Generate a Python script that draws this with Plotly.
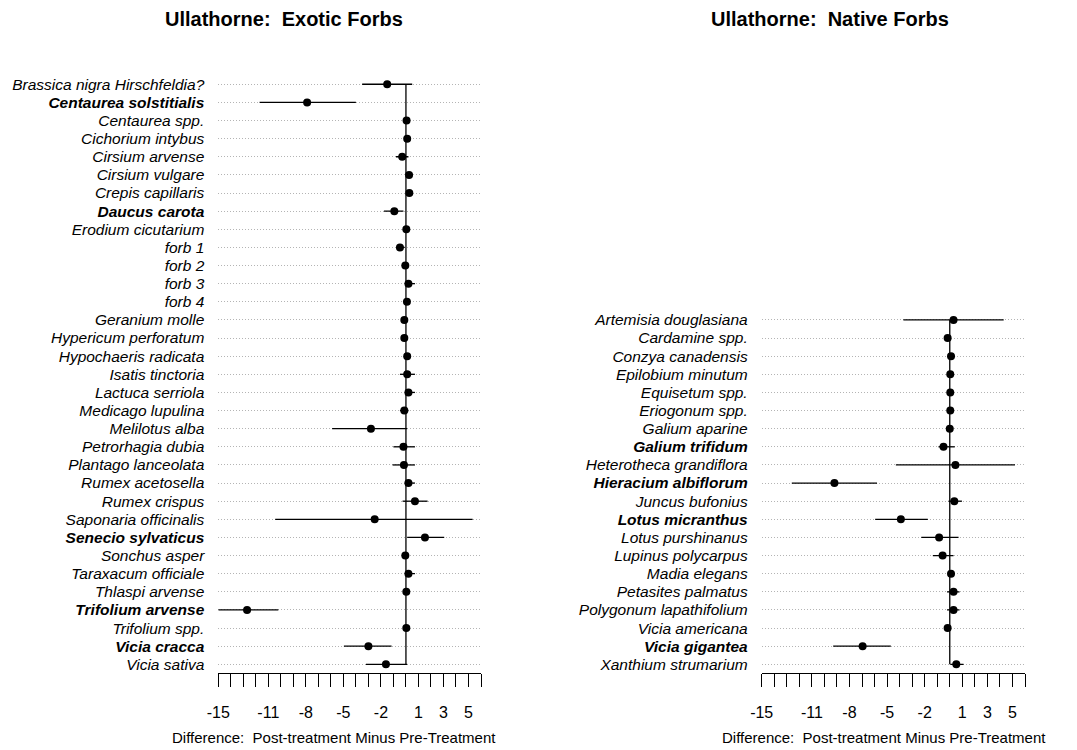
import plotly.graph_objects as go

# ---------------- data ----------------
exotic_species = [
    "Brassica nigra Hirschfeldia?", "Centaurea solstitialis", "Centaurea spp.",
    "Cichorium intybus", "Cirsium arvense", "Cirsium vulgare", "Crepis capillaris",
    "Daucus carota", "Erodium cicutarium", "forb 1", "forb 2", "forb 3", "forb 4",
    "Geranium molle", "Hypericum perforatum", "Hypochaeris radicata",
    "Isatis tinctoria", "Lactuca serriola", "Medicago lupulina", "Melilotus alba",
    "Petrorhagia dubia", "Plantago lanceolata", "Rumex acetosella", "Rumex crispus",
    "Saponaria officinalis", "Senecio sylvaticus", "Sonchus asper",
    "Taraxacum officiale", "Thlaspi arvense", "Trifolium arvense", "Trifolium spp.",
    "Vicia cracca", "Vicia sativa",
]
exotic_mean = [-1.5, -7.9, 0.05, 0.1, -0.3, 0.25, 0.27, -0.93, 0.03, -0.48, -0.05,
               0.2, 0.08, -0.13, -0.13, 0.1, 0.1, 0.2, -0.13, -2.8, -0.2, -0.16,
               0.2, 0.72, -2.5, 1.52, -0.05, 0.2, 0.03, -12.7, 0.03, -3.0, -1.6]
exotic_lo = [-3.5, -11.7, 0.0, 0.0, -0.8, 0.1, 0.1, -1.76, 0.0, -0.75, -0.1,
             -0.1, 0.0, -0.2, -0.2, 0.0, -0.48, -0.08, -0.48, -5.9, -1.0, -1.07,
             -0.1, -0.27, -10.45, 0.1, -0.1, -0.1, 0.0, -15.0, 0.0, -4.96, -3.2]
exotic_hi = [0.5, -4.0, 0.1, 0.2, 0.2, 0.45, 0.5, -0.2, 0.1, -0.1, 0.0,
             0.72, 0.2, 0.0, 0.0, 0.2, 0.72, 0.72, 0.2, 0.1, 0.72, 0.72,
             0.72, 1.73, 5.33, 3.06, 0.0, 0.72, 0.1, -10.2, 0.1, -1.15, 0.1]
exotic_significant = ["Centaurea solstitialis", "Daucus carota", "Senecio sylvaticus",
                      "Trifolium arvense", "Vicia cracca"]

native_species = [
    "Artemisia douglasiana", "Cardamine spp.", "Conzya canadensis",
    "Epilobium minutum", "Equisetum spp.", "Eriogonum spp.", "Galium aparine",
    "Galium trifidum", "Heterotheca grandiflora", "Hieracium albiflorum",
    "Juncus bufonius", "Lotus micranthus", "Lotus purshinanus", "Lupinus polycarpus",
    "Madia elegans", "Petasites palmatus", "Polygonum lapathifolium",
    "Vicia americana", "Vicia gigantea", "Xanthium strumarium",
]
native_mean = [0.3, -0.17, 0.1, 0.04, 0.04, 0.04, 0.0, -0.5, 0.45, -9.2, 0.36,
               -3.9, -0.85, -0.57, 0.1, 0.3, 0.3, -0.17, -6.95, 0.52]
native_lo = [-3.7, -0.25, -0.05, 0.0, 0.0, 0.0, -0.05, -0.9, -4.3, -12.6, -0.1,
             -5.95, -2.27, -1.35, 0.0, -0.22, -0.22, -0.25, -9.3, 0.04]
native_hi = [4.3, -0.05, 0.3, 0.1, 0.1, 0.1, 0.05, 0.4, 5.2, -5.8, 0.97,
             -1.75, 0.7, 0.3, 0.2, 0.78, 0.78, -0.05, -4.7, 1.1]
native_significant = ["Galium trifidum", "Hieracium albiflorum", "Lotus micranthus",
                      "Vicia gigantea"]

x_tick_values = list(range(-15, 7))
x_tick_labels_shown = [-15, -11, -8, -5, -2, 1, 3, 5]

panel_titles = ["Ullathorne:  Exotic Forbs", "Ullathorne:  Native Forbs"]
x_axis_title = "Difference:  Post-treatment Minus Pre-Treatment"
n_slots = 33

# ---------------- figure ----------------
FONT = "Liberation Sans, Arial, Helvetica, sans-serif"
W, H = 1077, 750

fig = go.Figure()


def label(name, sig):
    return f"<b><i>{name}</i></b>" if name in sig else f"<i>{name}</i>"


panels = [
    (exotic_species, exotic_mean, exotic_lo, exotic_hi, exotic_significant, "x", "y"),
    (native_species, native_mean, native_lo, native_hi, native_significant, "x2", "y2"),
]

for sp, mean, lo, hi, sig, xa, ya in panels:
    n = len(sp)
    rows = [n - i for i in range(n)]
    fig.add_trace(go.Scatter(
        x=mean, y=rows, mode="markers", xaxis=xa, yaxis=ya,
        marker=dict(color="black", size=8),
        error_x=dict(type="data", symmetric=False,
                     array=[h - m for h, m in zip(hi, mean)],
                     arrayminus=[m - l for m, l in zip(mean, lo)],
                     width=0, thickness=1.3, color="black"),
        hoverinfo="skip",
    ))
    fig.add_shape(type="line", xref=xa, yref=ya, x0=0, x1=0, y0=1, y1=n,
                  line=dict(color="black", width=1.3))

xticktext = [str(v) if v in x_tick_labels_shown else "" for v in x_tick_values]

y_dom = [1 - 673.4 / H, 1 - 75.2 / H]
x_doms = [[218.3 / W, 481.0 / W], [761.7 / W, 1025.0 / W]]

common_x = dict(range=[-15, 6], tickvals=x_tick_values, ticktext=xticktext,
                ticks="outside", ticklen=13, tickwidth=1, tickcolor="black",
                showline=True, linecolor="black", linewidth=1, showgrid=False,
                zeroline=False, tickfont=dict(family=FONT, size=16, color="black"),
                ticklabelstandoff=11, fixedrange=True, automargin=False)

layout = dict(width=W, height=H, margin=dict(l=0, r=0, t=0, b=0, autoexpand=False),
              plot_bgcolor="white", paper_bgcolor="white", showlegend=False,
              font=dict(family=FONT, color="black"))

for k, (sp, mean, lo, hi, sig, xa, ya) in enumerate(panels):
    n = len(sp)
    xkey = "xaxis" if k == 0 else "xaxis2"
    ykey = "yaxis" if k == 0 else "yaxis2"
    layout[xkey] = dict(common_x, domain=x_doms[k], anchor=ya)
    layout[ykey] = dict(domain=y_dom, range=[0.5, n_slots + 0.5], anchor=xa,
                        tickvals=[n - i for i in range(n)],
                        ticktext=[label(s, sig) for s in sp],
                        showgrid=True, gridcolor="#b4b4b4", griddash="1px,2px",
                        gridwidth=1, showline=False, zeroline=False, ticks="",
                        tickfont=dict(family=FONT, size=15.5, color="black"),
                        ticklabelstandoff=13, fixedrange=True, automargin=False)

fig.update_layout(**layout)

title_x = [284 / W, 830 / W]
axis_title_x = [334.5 / W, 883.5 / W]
for k in range(2):
    fig.add_annotation(text=f"<b>{panel_titles[k]}</b>", x=title_x[k], y=1 - 19 / H,
                       xref="paper", yref="paper", showarrow=False,
                       xanchor="center", yanchor="middle",
                       font=dict(family=FONT, size=20, color="black"))
    fig.add_annotation(text=x_axis_title, x=axis_title_x[k], y=1 - 737 / H,
                       xref="paper", yref="paper", showarrow=False,
                       xanchor="center", yanchor="middle",
                       font=dict(family=FONT, size=15, color="black"))

fig.write_html("out.html")
